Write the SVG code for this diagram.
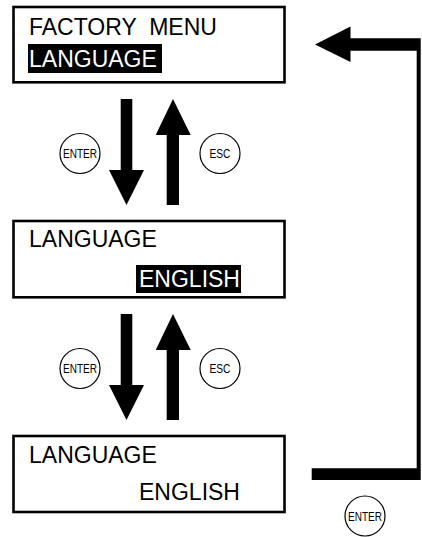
<svg xmlns="http://www.w3.org/2000/svg" width="422" height="537" viewBox="0 0 422 537">
<style>
.box{fill:#fff;stroke:#000;stroke-width:2.6}
.t{font-family:"Liberation Sans",Arial,sans-serif;font-size:23px;fill:#000}
.inv{fill:#fff}
.hl{fill:#000}
.btn{fill:#fff;stroke:#000;stroke-width:1.2}
.bt{font-family:"Liberation Sans",Arial,sans-serif;font-size:13px;fill:#000;text-anchor:middle}
.arr{fill:#000}
</style>
<rect width="422" height="537" fill="#fff"/>
<g id="connectors">
<path class="arr" d="M120.7 99 H132.3 V170 H144 L126.5 205 L109 170 H120.7 Z"/>
<path class="arr" d="M166.7 205 H179 V135 H190.7 L173 99 L155.7 135 H166.7 Z"/>
<path class="arr" d="M120.7 314 H132.3 V385 H144 L126.5 420 L109 385 H120.7 Z"/>
<path class="arr" d="M166.7 420 H179 V350 H190.7 L173 314 L155.7 350 H166.7 Z"/>
<path class="arr" d="M311.7 468.3 H416.7 V50.7 H350.5 V62 L315 44.5 L350.5 26.5 V38.3 H420.7 V480 H311.7 Z"/>
</g>
<g id="screen1">
<rect class="box" x="13.5" y="7" width="271" height="75.3"/>
<text class="t" x="29" y="35" xml:space="preserve">FACTORY  MENU</text>
<rect class="hl" x="28" y="44" width="134" height="29"/>
<text class="t inv" x="29" y="67">LANGUAGE</text>
</g>
<g id="screen2">
<rect class="box" x="13.5" y="221" width="271" height="76.3"/>
<text class="t" x="29" y="247">LANGUAGE</text>
<rect class="hl" x="136" y="265" width="105" height="28"/>
<text class="t inv" x="139" y="287">ENGLISH</text>
</g>
<g id="screen3">
<rect class="box" x="13.5" y="436" width="271" height="76"/>
<text class="t" x="29" y="463">LANGUAGE</text>
<text class="t" x="139" y="500">ENGLISH</text>
</g>
<g id="enter1">
<circle class="btn" cx="80" cy="153.5" r="20"/>
<text class="bt" x="80" y="158" textLength="34" lengthAdjust="spacingAndGlyphs">ENTER</text>
</g>
<g id="esc1">
<circle class="btn" cx="220" cy="153.5" r="20"/>
<text class="bt" x="220" y="158" textLength="21" lengthAdjust="spacingAndGlyphs">ESC</text>
</g>
<g id="enter2">
<circle class="btn" cx="80" cy="368.5" r="20"/>
<text class="bt" x="80" y="373" textLength="34" lengthAdjust="spacingAndGlyphs">ENTER</text>
</g>
<g id="esc2">
<circle class="btn" cx="220" cy="368.5" r="20"/>
<text class="bt" x="220" y="373" textLength="21" lengthAdjust="spacingAndGlyphs">ESC</text>
</g>
<g id="enter3">
<circle class="btn" cx="365" cy="516" r="20"/>
<text class="bt" x="365" y="520.5" textLength="34" lengthAdjust="spacingAndGlyphs">ENTER</text>
</g>
</svg>
